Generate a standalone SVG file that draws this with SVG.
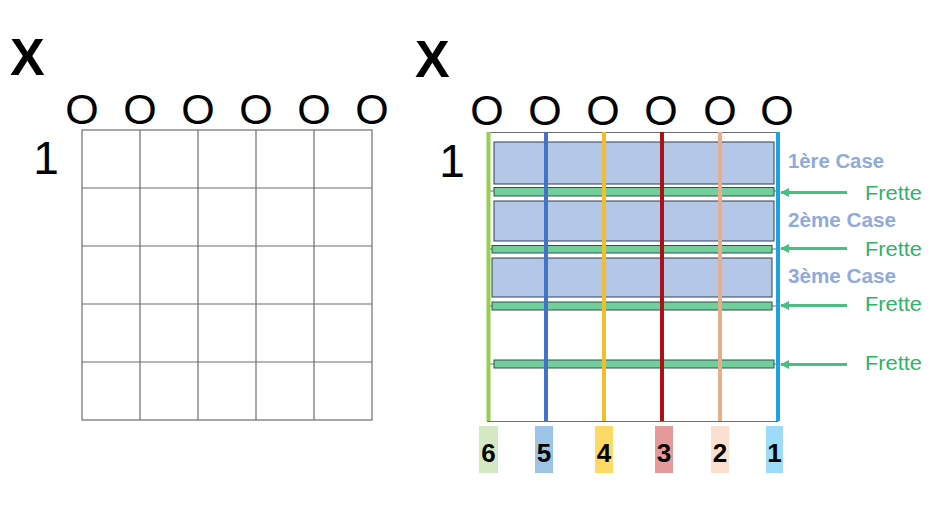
<svg xmlns="http://www.w3.org/2000/svg" width="934" height="527" viewBox="0 0 934 527">
<defs>
<marker id="ah" viewBox="0 0 10 10" refX="9" refY="5" markerWidth="3" markerHeight="3.2" orient="auto" markerUnits="strokeWidth">
<path d="M0,0 L10,5 L0,10 z" fill="#4cbe84"/>
</marker>
<style>
.big{font-family:"Liberation Sans",Arial,sans-serif;fill:#000}
.x{font-size:52px;font-weight:bold}
.o{font-size:43px;text-anchor:middle}
.one{font-size:46px;text-anchor:middle}
.grid{stroke:#6e6e6e;stroke-width:1.2;fill:none}
.case{fill:#b4c7e7;stroke:#2f3f55;stroke-width:1}
.fret{fill:#72cf9c;stroke:#2f4f55;stroke-width:1}
.str{stroke-width:4;fill:none}
.clab{font-family:"Liberation Sans",Arial,sans-serif;font-size:19.5px;font-weight:bold;fill:#8faadc}
.flab{font-family:"Liberation Sans",Arial,sans-serif;font-size:20px;fill:#2fb26a}
.arr{stroke:#4cbe84;stroke-width:3;fill:none;marker-end:url(#ah)}
.num{font-family:"Liberation Sans",Arial,sans-serif;font-size:26px;font-weight:bold;text-anchor:middle;fill:#000}
</style>
</defs>
<rect width="934" height="527" fill="#fff"/>

<g id="left-chart">
<text class="big x" x="10" y="75">X</text>
<g class="big o">
<text x="82" y="123.5">O</text><text x="140" y="123.5">O</text><text x="198" y="123.5">O</text><text x="256" y="123.5">O</text><text x="314" y="123.5">O</text><text x="372" y="123.5">O</text>
</g>
<text class="big one" x="46" y="174">1</text>
<g class="grid">
<rect x="82" y="130" width="290" height="290"/>
<path d="M140,130V420M198,130V420M256,130V420M314,130V420M82,188H372M82,246H372M82,304H372M82,362H372"/>
</g>
</g>

<g id="right-chart">
<text class="big x" x="415" y="77">X</text>
<g class="big o">
<text x="487" y="125">O</text><text x="545" y="125">O</text><text x="603" y="125">O</text><text x="661" y="125">O</text><text x="720" y="125">O</text><text x="777" y="125">O</text>
</g>
<text class="big one" x="452" y="176.5">1</text>
<g class="grid">
<path d="M487,132.5H778M487,421.5H778M487,191H778M487,249H778M487,306H778M487,364H778"/>
</g>
</g>

<g id="cases">
<rect class="case" x="494" y="142" width="280" height="42"/>
<rect class="case" x="494" y="201" width="280" height="40"/>
<rect class="case" x="492" y="258" width="280" height="39"/>
</g>
<g id="frets">
<rect class="fret" x="494" y="187.5" width="280" height="8.5"/>
<rect class="fret" x="492" y="245.5" width="280" height="7.5"/>
<rect class="fret" x="492" y="302" width="280" height="8"/>
<rect class="fret" x="494" y="360" width="280" height="8"/>
</g>

<g id="strings">
<line class="str" x1="488.5" y1="132" x2="488.5" y2="421" stroke="#92d050"/>
<line class="str" x1="546" y1="132" x2="546" y2="421" stroke="#4472c4"/>
<line class="str" x1="604" y1="132" x2="604" y2="421" stroke="#f2be2c"/>
<line class="str" x1="662" y1="132" x2="662" y2="421" stroke="#b01015"/>
<line class="str" x1="720" y1="132" x2="720" y2="421" stroke="#e9ad8a"/>
<line class="str" x1="778" y1="132" x2="778" y2="421" stroke="#1ea3dc"/>
</g>

<g id="case-labels">
<text class="clab" x="788" y="168" textLength="96" lengthAdjust="spacingAndGlyphs">1ère Case</text>
<text class="clab" x="788" y="227" textLength="108" lengthAdjust="spacingAndGlyphs">2ème Case</text>
<text class="clab" x="788" y="283" textLength="108" lengthAdjust="spacingAndGlyphs">3ème Case</text>
</g>

<g id="connectors">
<line class="arr" x1="847" y1="192.5" x2="781" y2="192.5"/>
<line class="arr" x1="847" y1="248.5" x2="781" y2="248.5"/>
<line class="arr" x1="847" y1="305.5" x2="781" y2="305.5"/>
<line class="arr" x1="847" y1="364.5" x2="781" y2="364.5"/>
</g>

<g id="fret-labels">
<text class="flab" x="865" y="200" textLength="57" lengthAdjust="spacingAndGlyphs">Frette</text>
<text class="flab" x="865" y="256" textLength="57" lengthAdjust="spacingAndGlyphs">Frette</text>
<text class="flab" x="865" y="311" textLength="57" lengthAdjust="spacingAndGlyphs">Frette</text>
<text class="flab" x="865" y="370" textLength="57" lengthAdjust="spacingAndGlyphs">Frette</text>
</g>

<g id="string-numbers">
<g id="n6"><rect x="479" y="426" width="19" height="47" fill="#d5e8c4"/><text class="num" x="488.5" y="462">6</text></g>
<g id="n5"><rect x="535" y="426" width="18" height="47" fill="#9dc3e6"/><text class="num" x="544" y="462">5</text></g>
<g id="n4"><rect x="595" y="426" width="18" height="47" fill="#ffd966"/><text class="num" x="604" y="462">4</text></g>
<g id="n3"><rect x="655" y="426" width="18" height="47" fill="#e6999a"/><text class="num" x="664" y="462">3</text></g>
<g id="n2"><rect x="711" y="426" width="18" height="47" fill="#fbe0cf"/><text class="num" x="720" y="462">2</text></g>
<g id="n1"><rect x="766" y="426" width="17" height="47" fill="#9ddcf8"/><text class="num" x="774.5" y="462">1</text></g>
</g>
</svg>
